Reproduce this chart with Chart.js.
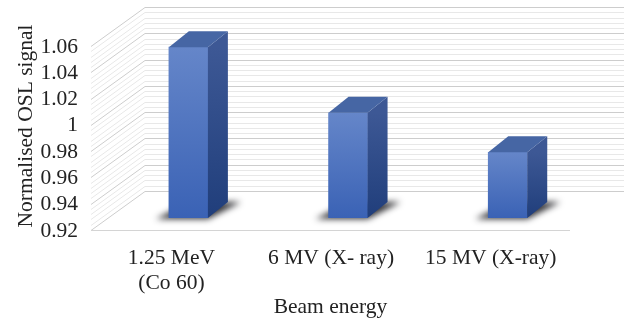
<!DOCTYPE html>
<html>
<head>
<meta charset="utf-8">
<script src="https://cdn.jsdelivr.net/npm/chart.js@4/dist/chart.umd.min.js"></script>
<style>
  html, body { margin: 0; padding: 0; background: #ffffff; }
  #wrap { width: 627px; height: 324px; }
</style>
</head>
<body>
<div id="wrap"><canvas id="chart" width="627" height="324"></canvas></div>
<script>
// Beam energies and the normalised OSL signal measured for each
const categories = [['1.25 MeV', '(Co 60)'], '6 MV (X- ray)', '15 MV (X-ray)'];
const signal = [1.05, 1.00, 0.97];
const yTicks = [0.92, 0.94, 0.96, 0.98, 1.00, 1.02, 1.04, 1.06];
const yMin = 0.92;
const yMax = 1.06;

// Oblique "3D" geometry (pixels): columns stand a little behind the floor's front edge
const FRONT_DX = -17, FRONT_DY = 12;   // column plane -> front edge of floor
const WALL_DX = 54, WALL_DY = -39;     // front edge -> back wall
const COL_DX = 20, COL_DY = -16;       // column depth
const MINOR_STEPS = 5;                 // minor gridlines per major interval

const FONT = { family: '"Liberation Serif", "Times New Roman", serif', size: 21.5 };
const TEXT = '#222222';

const depth3d = {
  id: 'depth3d',
  beforeDatasetsDraw(chart) {
    const { ctx, chartArea: a, scales: { y } } = chart;
    ctx.save();
    ctx.lineWidth = 1;
    const n = Math.round((yMax - yMin) / 0.02) * MINOR_STEPS;
    // side wall + back wall gridlines (minor first, then major on top)
    [false, true].forEach(drawMajor => {
      for (let k = 0; k <= n; k++) {
        const major = k % MINOR_STEPS === 0;
        if (major !== drawMajor) continue;
        const v = yMin + (yMax - yMin) * k / n;
        const fy = Math.round(y.getPixelForValue(v) + FRONT_DY) + 0.5;
        const by = fy + WALL_DY;
        ctx.strokeStyle = major ? '#cdcdcd' : '#e8e8e8';
        ctx.beginPath();
        ctx.moveTo(a.left, fy);
        ctx.lineTo(a.left + WALL_DX, by);
        ctx.lineTo(Math.min(a.right + WALL_DX, chart.width), by);
        ctx.stroke();
      }
    });
    // front edge of the floor
    const floorY = Math.round(y.getPixelForValue(yMin) + FRONT_DY) + 0.5;
    ctx.strokeStyle = '#d4d4d4';
    ctx.beginPath();
    ctx.moveTo(a.left, floorY);
    ctx.lineTo(a.right, floorY);
    ctx.stroke();

    // soft shadows under each column
    const meta = chart.getDatasetMeta(0);
    ctx.filter = 'blur(3px)';
    ctx.fillStyle = 'rgba(15,15,20,0.85)';
    meta.data.forEach(bar => {
      const { x, base, width } = bar.getProps(['x', 'base', 'width'], true);
      const x0 = x - width / 2, x1 = x + width / 2;
      ctx.beginPath();
      ctx.moveTo(x0 - 13, base + 1);
      ctx.lineTo(x1, base + 1);
      ctx.lineTo(x1 + COL_DX + 13, base + COL_DY);
      ctx.lineTo(x0 + COL_DX, base + COL_DY);
      ctx.closePath();
      ctx.fill();
    });
    ctx.restore();
  },
  afterDatasetsDraw(chart) {
    const { ctx } = chart;
    const meta = chart.getDatasetMeta(0);
    ctx.save();
    meta.data.forEach(bar => {
      const { x, y, base, width } = bar.getProps(['x', 'y', 'base', 'width'], true);
      const x0 = x - width / 2, x1 = x + width / 2;
      // right-hand side face
      const side = ctx.createLinearGradient(0, y, 0, base);
      side.addColorStop(0, '#3d5895');
      side.addColorStop(1, '#203e7b');
      ctx.fillStyle = side;
      ctx.beginPath();
      ctx.moveTo(x1, y);
      ctx.lineTo(x1 + COL_DX, y + COL_DY);
      ctx.lineTo(x1 + COL_DX, base + COL_DY);
      ctx.lineTo(x1, base);
      ctx.closePath();
      ctx.fill();
      // top face
      ctx.fillStyle = '#4666a4';
      ctx.beginPath();
      ctx.moveTo(x0, y);
      ctx.lineTo(x1, y);
      ctx.lineTo(x1 + COL_DX, y + COL_DY);
      ctx.lineTo(x0 + COL_DX, y + COL_DY);
      ctx.closePath();
      ctx.fill();
    });
    ctx.restore();
  }
};

// columns are placed on a linear index axis so the floor's front edge can span the plot area
const columns = signal.map((v, i) => ({ x: i, y: v }));

new Chart(document.getElementById('chart'), {
  type: 'bar',
  data: {
    datasets: [{
      data: columns,
      base: yMin,
      barThickness: 39,
      borderWidth: 0,
      backgroundColor: (c) => {
        const chart = c.chart;
        if (!chart.chartArea || c.type !== 'data') return '#4a6fbe';
        const ys = chart.scales.y;
        const top = ys.getPixelForValue(c.parsed.y);
        const bottom = ys.getPixelForValue(yMin);
        const g = chart.ctx.createLinearGradient(0, top, 0, bottom);
        g.addColorStop(0, '#6586c9');
        g.addColorStop(1, '#3a62b5');
        return g;
      }
    }]
  },
  options: {
    responsive: false,
    devicePixelRatio: 1,
    animation: false,
    layout: { padding: { left: 0, right: 57, top: 34, bottom: 0 } },
    plugins: { legend: { display: false }, tooltip: { enabled: false } },
    scales: {
      x: {
        type: 'linear',
        offset: false,
        min: -0.61,
        max: 2.39,
        grid: { display: false, offset: false },
        border: { display: false },
        afterBuildTicks: (s) => { s.ticks = categories.map((_, i) => ({ value: i })); },
        afterFit: (s) => { s.height = 106; },
        ticks: {
          autoSkip: false,
          maxRotation: 0,
          minRotation: 0,
          padding: 19,
          labelOffset: FRONT_DX,
          font: FONT,
          color: TEXT,
          callback: (v) => categories[v]
        },
        title: {
          display: true,
          text: 'Beam energy',
          font: FONT,
          color: TEXT,
          padding: { top: 0, bottom: 4 }
        }
      },
      y: {
        min: yMin,
        max: yMax,
        grid: { display: false },
        border: { display: false },
        afterBuildTicks: (s) => { s.ticks = yTicks.map(v => ({ value: v })); },
        afterFit: (s) => { s.width = 91; },
        ticks: {
          autoSkip: false,
          padding: 5,
          labelOffset: 13,
          font: FONT,
          color: TEXT,
          callback: (v) => String(+v.toFixed(2))
        },
        title: {
          display: true,
          text: 'Normalised OSL signal',
          font: FONT,
          color: TEXT,
          padding: { top: 13, bottom: 0 }
        }
      }
    }
  },
  plugins: [depth3d]
});
</script>
</body>
</html>
